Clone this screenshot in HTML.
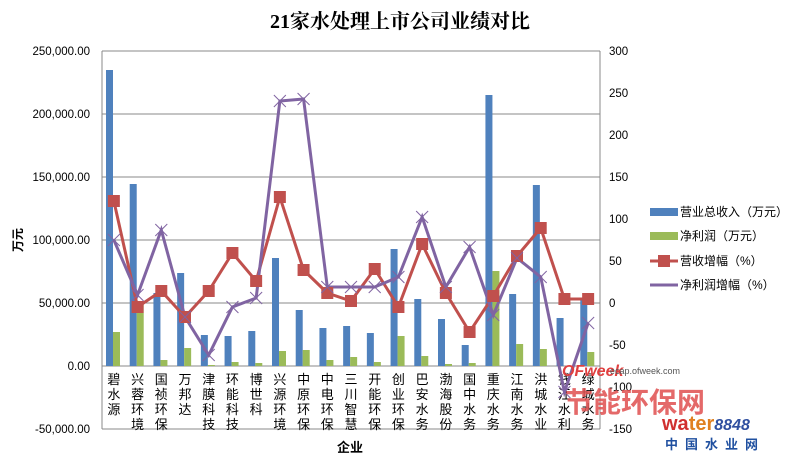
<!DOCTYPE html><html><head><meta charset="utf-8"><style>body{margin:0;background:#fff}svg text{font-family:"Liberation Sans","Noto Sans CJK SC",sans-serif}</style></head><body>
<svg width="792" height="460" xmlns="http://www.w3.org/2000/svg">
<rect width="792" height="460" fill="#fff"/>
<text x="400" y="28" text-anchor="middle" font-size="20" font-weight="bold" style="font-family:'Liberation Serif','Noto Serif CJK SC',serif">21家水处理上市公司业绩对比</text>
<g stroke="#888" stroke-width="1">
<line x1="102" y1="51" x2="600" y2="51"/><line x1="102" y1="114" x2="600" y2="114"/><line x1="102" y1="177" x2="600" y2="177"/><line x1="102" y1="240" x2="600" y2="240"/><line x1="102" y1="303" x2="600" y2="303"/><line x1="102" y1="366" x2="600" y2="366"/><line x1="102" y1="429" x2="600" y2="429"/>
<line x1="102" y1="51" x2="102" y2="429"/><line x1="600" y1="51" x2="600" y2="429"/>
</g>
<g font-size="11.5" text-anchor="end">
<text x="90" y="55">250,000.00</text><text x="90" y="118">200,000.00</text><text x="90" y="181">150,000.00</text><text x="90" y="244">100,000.00</text><text x="90" y="307">50,000.00</text><text x="90" y="370">0.00</text><text x="90" y="433">-50,000.00</text>
</g>
<g font-size="11.5">
<text x="609" y="55">300</text><text x="609" y="97">250</text><text x="609" y="139">200</text><text x="609" y="181">150</text><text x="609" y="223">100</text><text x="609" y="265">50</text><text x="609" y="307">0</text><text x="609" y="349">-50</text><text x="609" y="391">-100</text><text x="609" y="433">-150</text>
</g>
<text transform="translate(22,240) rotate(-90)" text-anchor="middle" font-size="12" font-weight="bold">万元</text>
<text x="350" y="452" text-anchor="middle" font-size="13" font-weight="bold">企业</text>
<g id="bars"></g><g id="lab" font-size="13" text-anchor="middle"></g>
<polyline id="red" fill="none" stroke="#c0504d" stroke-width="3"/>
<polyline id="pur" fill="none" stroke="#8064a2" stroke-width="3"/>
<g id="mk"></g>
<g font-size="12">
<rect x="650" y="208" width="28" height="8" fill="#4f81bd"/><text x="680" y="216">营业总收入（万元）</text>
<rect x="650" y="232" width="28" height="8" fill="#9bbb59"/><text x="680" y="240">净利润（万元）</text>
<line x1="650" y1="261" x2="678" y2="261" stroke="#c0504d" stroke-width="3"/><rect x="658" y="255" width="12" height="12" fill="#c0504d"/><text x="680" y="265">营收增幅（%）</text>
<line x1="650" y1="285" x2="678" y2="285" stroke="#8064a2" stroke-width="3"/><text x="680" y="289">净利润增幅（%）</text>
</g>
<text x="562" y="376" font-size="16" font-weight="bold" font-style="italic" fill="#e04040">OFweek</text>
<text x="610" y="374" font-size="9" fill="#555">ecap.ofweek.com</text>
<text x="565" y="412" font-size="28" font-weight="bold" fill="#e05050" opacity="0.85">节能环保网</text>
<text x="662" y="430" font-size="20" font-weight="bold" fill="#d03030">wa<tspan fill="#e08020">ter</tspan><tspan fill="#3050a0" font-style="italic" font-size="16">8848</tspan></text>
<text x="665" y="449" font-size="13" font-weight="bold" fill="#2050a0" letter-spacing="7">中国水业网</text>
</svg>
<script>
var names=["碧水源","兴蓉环境","国祯环保","万邦达","津膜科技","环能科技","博世科","兴源环境","中原环保","中电环保","三川智慧","开能环保","创业环保","巴安水务","渤海股份","国中水务","重庆水务","江南水务","洪城水业","钱江水利","绿城水务"];
var b=[70,184,293,273,335,336,331,258,310,328,326,333,249,299,319,345,95,294,185,318,300];
var g=[332,303,360,348,365,362,363,351,350,360,357,362,336,356,364,363,271,344,349,366,352];
var r=[201,307,291,317,291,253,281,197,270,293,301,269,307,244,293,332,296,256,228,299,299];
var p=[240,295,230,317,355,307,298,101,99,287,287,287,277,217,287,247,315,258,277,392,323];
var ns="http://www.w3.org/2000/svg",w=498/21,B=document.getElementById("bars"),L=document.getElementById("lab"),M=document.getElementById("mk");
function el(t,a,par){var e=document.createElementNS(ns,t);for(var k in a)e.setAttribute(k,a[k]);par.appendChild(e);return e;}
var rp=[],pp=[];
for(var i=0;i<21;i++){var x0=102+i*w,cx=x0+w/2;
el("rect",{x:x0+4,y:b[i],width:7,height:366-b[i],fill:"#4f81bd"},B);
el("rect",{x:x0+11,y:g[i],width:7,height:366-g[i],fill:"#9bbb59"},B);
rp.push(cx+","+r[i]);pp.push(cx+","+p[i]);
el("rect",{x:cx-6,y:r[i]-6,width:12,height:12,fill:"#c0504d"},M);
el("path",{d:"M"+(cx-6)+" "+(p[i]-6)+"l12 12M"+(cx+6)+" "+(p[i]-6)+"l-12 12",stroke:"#8064a2","stroke-width":1},M);
for(var j=0;j<names[i].length;j++){var t=el("text",{x:cx,y:384+j*15},L);t.textContent=names[i][j];}}
document.getElementById("red").setAttribute("points",rp.join(" "));
document.getElementById("pur").setAttribute("points",pp.join(" "));
</script>
</body></html>
